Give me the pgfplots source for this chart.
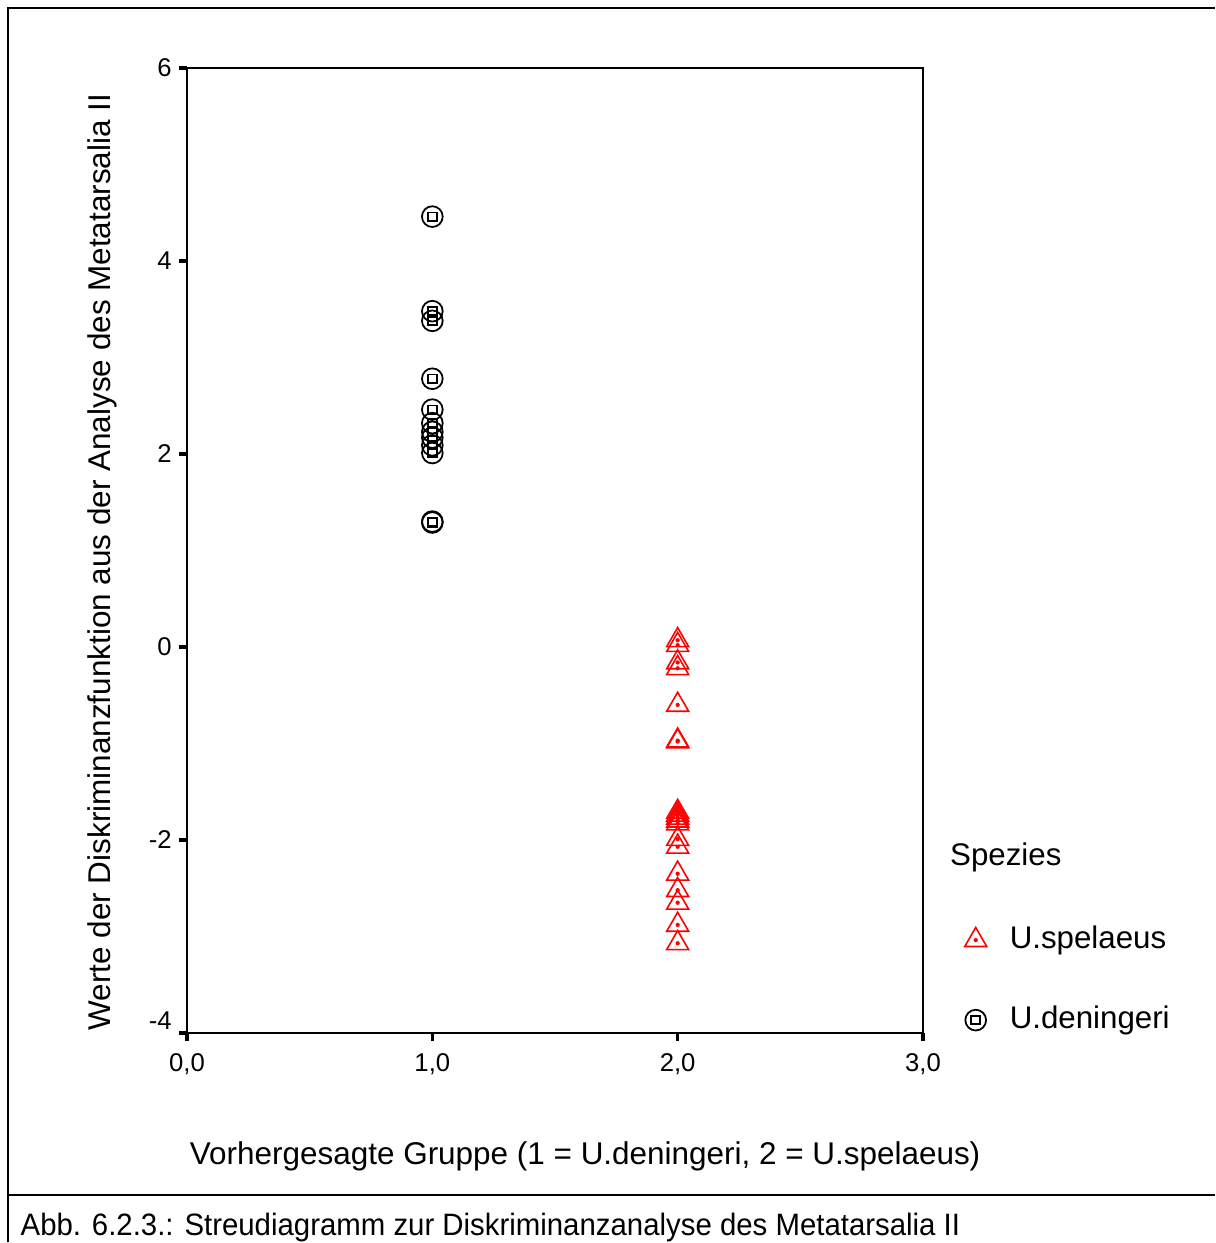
\documentclass[border=0pt]{standalone}
\usepackage{pgfplots}
\pgfplotsset{compat=1.18}
\usepackage{fontspec}
\setmainfont{Liberation Sans}

\pgfdeclareplotmark{dcirc}{%
  \pgfpathcircle{\pgfpointorigin}{\pgfplotmarksize}\pgfusepathqstroke
  \begin{pgfscope}
  \pgfsetcornersarced{\pgfpoint{0.28\pgfplotmarksize}{0.28\pgfplotmarksize}}%
  \pgfpathrectanglecorners{\pgfpoint{-0.42\pgfplotmarksize}{-0.40\pgfplotmarksize}}{\pgfpoint{0.42\pgfplotmarksize}{0.40\pgfplotmarksize}}%
  \pgfusepathqstroke
  \end{pgfscope}
}
\pgfdeclareplotmark{dtri}{%
  \pgfpathmoveto{\pgfqpointpolar{90}{\pgfplotmarksize}}%
  \pgfpathlineto{\pgfqpointpolar{210}{\pgfplotmarksize}}%
  \pgfpathlineto{\pgfqpointpolar{330}{\pgfplotmarksize}}%
  \pgfpathclose
  \pgfusepathqstroke
  \pgfpathcircle{\pgfpointorigin}{0.17\pgfplotmarksize}%
  \pgfusepathqfill
}

\pgfplotstableread{
x y
1 4.46
1 3.48
1 3.38
1 2.78
1 2.46
1 2.32
1 2.23
1 2.17
1 2.09
1 2.01
1 1.30
1 1.29
}\deningeri

\pgfplotstableread{
x y
2 0.07
2 0.02
2 -0.16
2 -0.22
2 -0.60
2 -0.97
2 -0.98
2 -1.71
2 -1.74
2 -1.77
2 -1.80
2 -1.83
2 -1.99
2 -2.07
2 -2.35
2 -2.52
2 -2.65
2 -2.88
2 -3.07
}\spelaeus

\begin{document}
\begin{tikzpicture}
\useasboundingbox (0,0) rectangle (12.16cm,12.43cm);
\begin{scope}[x=0.01cm,y=-0.01cm,shift={(0cm,12.43cm)}]
  \draw[line width=0.6pt] (8,1243) -- (8,8) -- (1216,8);
  \draw[line width=0.6pt] (8,1196) -- (1216,1196);
  \node[anchor=base west,inner sep=0pt,font=\fontsize{8.8pt}{10pt}\selectfont,xscale=0.95] at (20,1236) {Abb. 6.2.3.: Streudiagramm zur Diskriminanzanalyse des Metatarsalia II};
  \node[anchor=base west,inner sep=0pt,font=\fontsize{8.9pt}{10pt}\selectfont] at (950,866) {Spezies};
\end{scope}
\begin{axis}[
  at={(1.87cm,2.10cm)}, anchor=south west,
  scale only axis, width=7.36cm, height=9.65cm,
  xmin=0, xmax=3, ymin=-4, ymax=6,
  xtick={0,1,2,3}, xticklabels={{0,0},{1,0},{2,0},{3,0}},
  ytick={-2,0,2,4,6},
  extra y ticks={-4},
  extra y tick style={yticklabel style={yshift=0.12cm}},
  tick align=outside, xtick pos=bottom, ytick pos=left,
  major tick length=0.08cm,
  every tick/.style={black,line width=0.9pt},
  axis line style={line width=0.6pt},
  tick label style={font=\fontsize{7.3pt}{8pt}\selectfont},
  yticklabel style={xshift=0.05cm},
  /pgf/number format/assume math mode=true,
  xlabel={Vorhergesagte Gruppe (1 = U.deningeri, 2 = U.spelaeus)},
  ylabel={Werte der Diskriminanzfunktion aus der Analyse des Metatarsalia II},
  label style={font=\fontsize{8.95pt}{10pt}\selectfont},
  xlabel style={at={(axis description cs:0.541,-0.1358)}, anchor=base, inner sep=0pt},
  ylabel style={at={(axis description cs:-0.1033,0.488)}, anchor=base, inner sep=0pt},
  legend style={at={(axis description cs:1.036,0.126)}, anchor=north west,
    draw=none, fill=none, font=\fontsize{8.9pt}{10pt}\selectfont,
    row sep=0.38cm, cells={anchor=west}},
  legend image code/.code={\draw[#1] plot coordinates {(0.15cm,0cm)};\path[draw=none,fill=none] (0cm,0cm) -- (0.42cm,0cm);},
  clip=false,
]
\addplot[only marks, mark=dtri, mark size=3.6pt, red, line width=0.45pt] table[x=x,y=y] {\spelaeus};
\addlegendentry{U.spelaeus}
\addplot[only marks, mark=dcirc, mark size=2.95pt, black, line width=0.5pt] table[x=x,y=y] {\deningeri};
\addlegendentry{U.deningeri}
\end{axis}
\end{tikzpicture}
\end{document}
